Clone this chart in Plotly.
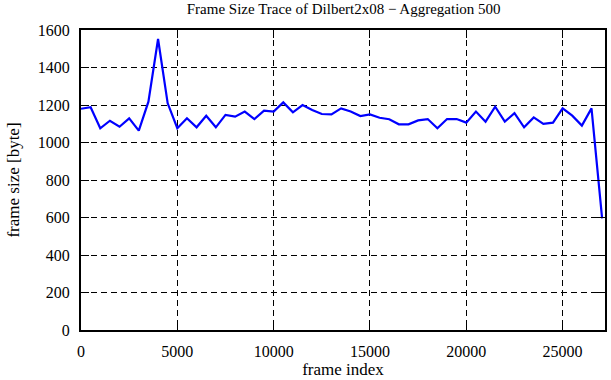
import plotly.graph_objects as go

frame_index = [0, 500, 1000, 1500, 2000, 2500, 3000, 3500, 4000, 4500,
               5000, 5500, 6000, 6500, 7000, 7500, 8000, 8500, 9000, 9500,
               10000, 10500, 11000, 11500, 12000, 12500, 13000, 13500, 14000, 14500,
               15000, 15500, 16000, 16500, 17000, 17500, 18000, 18500, 19000, 19500,
               20000, 20500, 21000, 21500, 22000, 22500, 23000, 23500, 24000, 24500,
               25000, 25500, 26000, 26500, 27050]
frame_size = [1180, 1188, 1076, 1116, 1084, 1129, 1063, 1218, 1552, 1209,
              1076, 1129, 1081, 1143, 1081, 1147, 1138, 1165, 1125, 1170,
              1165, 1214, 1161, 1200, 1173, 1152, 1150, 1182, 1165, 1141,
              1150, 1132, 1124, 1097, 1097, 1118, 1125, 1076, 1125, 1125,
              1106, 1165, 1111, 1191, 1111, 1156, 1081, 1134, 1099, 1106,
              1182, 1143, 1090, 1182, 595]

x_ticks = [0, 5000, 10000, 15000, 20000, 25000]
x_tick_labels = ["0", "5000", "10000", "15000", "20000", "25000"]
y_ticks = [0, 200, 400, 600, 800, 1000, 1200, 1400, 1600]
y_tick_labels = ["0", "200", "400", "600", "800", "1000", "1200", "1400", "1600"]

title_text = "Frame Size Trace of Dilbert2x08 \u2212 Aggregation 500"
x_title = "frame index"
y_title = "frame size [byte]"

font_family = "Liberation Serif"

fig = go.Figure()
fig.add_trace(go.Scatter(x=frame_index, y=frame_size, mode="lines",
                         line=dict(color="#0000ff", width=2.2),
                         showlegend=False, cliponaxis=True, hoverinfo="skip"))

axis_common = dict(
    showline=True, linecolor="black", linewidth=2, mirror="ticks",
    ticks="inside", ticklen=8, tickwidth=1, tickcolor="black",
    showgrid=True, gridcolor="black", gridwidth=1, griddash="6px,4px",
    zeroline=False, automargin=False, ticklabelstandoff=6,
    tickfont=dict(family=font_family, size=16, color="black"),
)

fig.update_layout(
    width=611, height=380,
    margin=dict(l=81, r=6, t=30, b=50, autoexpand=False),
    paper_bgcolor="white", plot_bgcolor="white",
    title=dict(text=title_text, x=0.5625, xanchor="center", y=0.99, yanchor="top",
               automargin=False,
               font=dict(family=font_family, size=15, color="black")),
    xaxis=dict(range=[0, 27200], tickvals=x_ticks, ticktext=x_tick_labels,
               title=dict(text=x_title, standoff=0,
                          font=dict(family=font_family, size=17, color="black")),
               **axis_common),
    yaxis=dict(range=[0, 1600], tickvals=y_ticks, ticktext=y_tick_labels,
               title=dict(text=y_title, standoff=14,
                          font=dict(family=font_family, size=17, color="black")),
               **axis_common),
)

fig.write_html("out.html", config={"displayModeBar": False},
               post_script="document.body.style.margin='0';document.body.style.padding='0';")
